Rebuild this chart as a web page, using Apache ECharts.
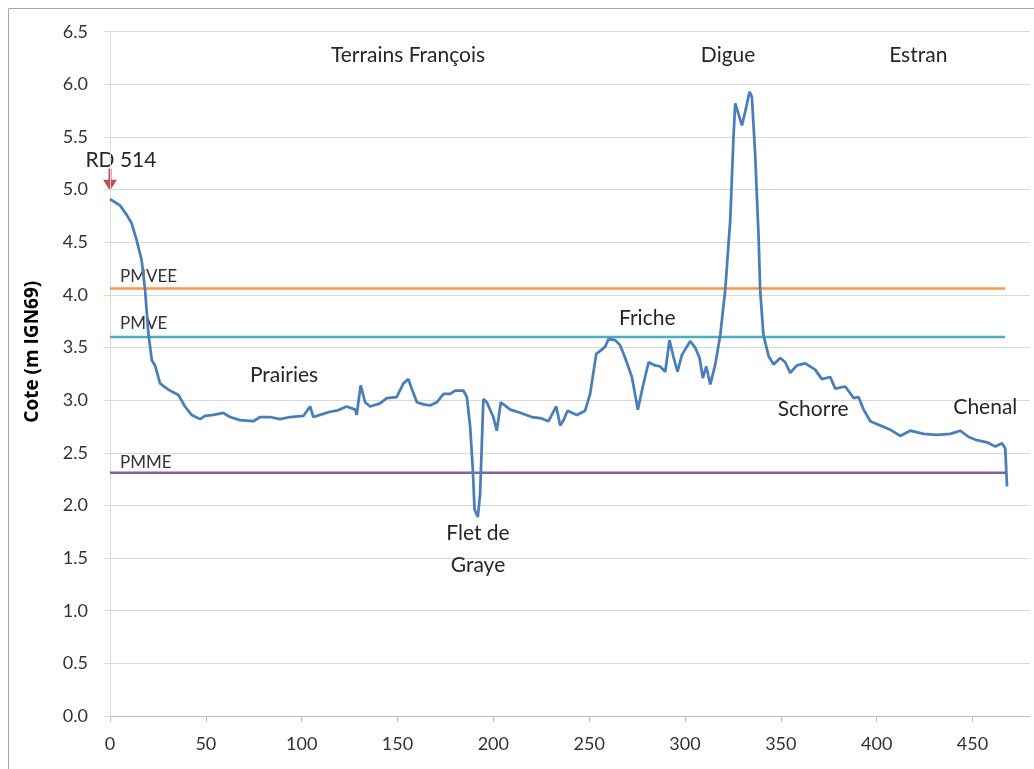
<!DOCTYPE html>
<html>
<head>
<meta charset="utf-8">
<script src="https://cdn.jsdelivr.net/npm/echarts@6/dist/echarts.min.js"></script>
<style>
html,body{margin:0;padding:0;background:#fff;}
#c{width:1034px;height:769px;}
</style>
</head>
<body>
<div id="c"></div>
<script>
const distance = [0, 2.6, 5.2, 8.7, 11.3, 13.9, 16.5, 18.3, 20, 21.8, 23.5, 26.1, 30.4, 35.7, 39.1, 42.6, 47, 49.6, 53.9, 59.1, 62.6, 67.8, 74.8, 78.3, 83.5, 88.7, 93.9, 100.9, 104.4, 106.1, 111.3, 114.8, 118.3, 123.5, 127.9, 128.7, 130.8, 133.1, 135.7, 140.9, 144.4, 149.6, 153.1, 155.7, 157.4, 160.1, 163.5, 167, 170.5, 174, 177.5, 180.1, 184.4, 186.2, 187.9, 189.3, 190.2, 191.9, 193.1, 194, 194.8, 196.6, 200, 201.8, 203.9, 208.8, 214, 220.1, 224.4, 228.8, 230.5, 232.8, 234.9, 236.6, 238.7, 243.6, 247.9, 250.5, 253.7, 256.6, 258.4, 260.1, 263.6, 266.2, 268.8, 272.3, 275.4, 278, 281, 284.4, 287.1, 289.7, 291.9, 294, 296.1, 298.4, 302.7, 305.3, 307.6, 309.3, 311.1, 313.2, 315.8, 318.4, 321, 323.6, 325.3, 326.2, 327.9, 329.7, 331.4, 333.7, 334.9, 336.6, 338.4, 339.2, 340.9, 343.6, 346.2, 349.7, 352.3, 354.9, 358.4, 362.7, 367.9, 371.4, 375.8, 378.4, 383.6, 388, 390.5, 393.2, 396.7, 401.9, 407.1, 412.3, 417.5, 424.5, 431.4, 438.4, 443.6, 448, 452.3, 457.6, 461.9, 465.4, 467.1, 468];
const cote = [4.91, 4.88, 4.85, 4.76, 4.68, 4.52, 4.33, 4.05, 3.64, 3.38, 3.33, 3.16, 3.10, 3.05, 2.94, 2.86, 2.82, 2.85, 2.86, 2.88, 2.84, 2.81, 2.80, 2.84, 2.84, 2.82, 2.84, 2.85, 2.94, 2.84, 2.87, 2.89, 2.90, 2.94, 2.91, 2.86, 3.14, 2.98, 2.94, 2.97, 3.02, 3.03, 3.16, 3.20, 3.11, 2.98, 2.96, 2.95, 2.98, 3.06, 3.06, 3.09, 3.09, 3.03, 2.75, 2.34, 1.96, 1.89, 2.11, 2.59, 3.01, 2.98, 2.84, 2.71, 2.98, 2.91, 2.88, 2.84, 2.83, 2.80, 2.86, 2.94, 2.76, 2.81, 2.90, 2.86, 2.90, 3.06, 3.44, 3.48, 3.51, 3.58, 3.57, 3.52, 3.40, 3.22, 2.91, 3.13, 3.36, 3.33, 3.32, 3.27, 3.57, 3.41, 3.27, 3.43, 3.56, 3.50, 3.40, 3.21, 3.32, 3.15, 3.34, 3.62, 4.05, 4.71, 5.50, 5.82, 5.72, 5.61, 5.74, 5.93, 5.88, 5.34, 4.55, 4.05, 3.62, 3.42, 3.34, 3.40, 3.36, 3.26, 3.33, 3.35, 3.29, 3.20, 3.22, 3.11, 3.13, 3.02, 3.03, 2.91, 2.80, 2.76, 2.72, 2.66, 2.71, 2.68, 2.67, 2.68, 2.71, 2.65, 2.62, 2.60, 2.56, 2.59, 2.54, 2.18];

const refNames = ['PMVEE', 'PMVE', 'PMME'];
const refLevels = [4.06, 3.60, 2.31];
const refExtent = [0, 467];
const refColors = ['#F79646', '#4BACC6', '#8064A2'];

const xTicks = [0, 50, 100, 150, 200, 250, 300, 350, 400, 450];
const yTicks = [0, 0.5, 1, 1.5, 2, 2.5, 3, 3.5, 4, 4.5, 5, 5.5, 6, 6.5];

const zoneNames = ['Terrains François', 'Digue', 'Estran'];
const zoneX = [155.5, 322.5, 421.7];
const zoneY = 6.28;
const placeNames = ['Prairies', 'Friche', 'Flet de', 'Graye', 'Schorre', 'Chenal', 'RD 514'];
const placeX = [90.8, 280.3, 192, 192, 366.9, 456.7, 5.7];
const placeY = [3.24, 3.78, 1.74, 1.43, 2.91, 2.93, 5.28];
const refLabelX = 5.2;
const refLabelY = [4.17, 3.73, 2.41];
const arrowFrom = [0, 5.20];
const arrowTo = [0, 4.99];
const yTitle = 'Cote (m IGN69)';

const chart = echarts.init(document.getElementById('c'));
const FONT = 'Lato';

const series = [{
  type: 'line',
  data: distance.map((d, i) => [d, cote[i]]),
  showSymbol: false,
  symbol: 'none',
  smooth: false,
  lineStyle: { color: '#4A7EBB', width: 2.75 },
  z: 5
}];
refLevels.forEach((lv, i) => {
  series.push({
    type: 'line',
    name: refNames[i],
    data: refExtent.map(x => [x, lv]),
    symbol: 'none',
    lineStyle: { color: refColors[i], width: 2.5 },
    z: 3
  });
});

chart.setOption({
  animation: false,
  backgroundColor: '#fff',
  grid: { left: 110, right: 4, top: 31.7, bottom: 53, containLabel: false },
  xAxis: {
    type: 'value', min: 0, max: 480, interval: 50,
    axisLine: { show: true, lineStyle: { color: '#BFBFBF', width: 1 } },
    axisTick: { show: true, length: 6, lineStyle: { color: '#BFBFBF' } },
    axisLabel: { color: '#333', fontFamily: FONT, fontSize: 18, margin: 19, showMaxLabel: false,
      formatter: v => xTicks.includes(v) ? String(v) : '' },
    splitLine: { show: false }
  },
  yAxis: {
    type: 'value', min: 0, max: 6.5, interval: 0.5,
    axisLine: { show: true, lineStyle: { color: '#D9D9D9', width: 1 } },
    axisTick: { show: true, length: 6, lineStyle: { color: '#D9D9D9' } },
    axisLabel: { color: '#333', fontFamily: FONT, fontSize: 18, margin: 22,
      formatter: v => yTicks.some(t => Math.abs(t - v) < 1e-9) ? v.toFixed(1) : '' },
    splitLine: { show: true, lineStyle: { color: '#D9D9D9', width: 1 } }
  },
  series: series
});

const g = [];
g.push({ type: 'rect', shape: { x: 8.5, y: 8.5, width: 1100, height: 900 }, style: { fill: 'none', stroke: '#A6A6A6', lineWidth: 1 }, silent: true });
function px(x, y) { return chart.convertToPixel({ gridIndex: 0 }, [x, y]); }
const tc = chart.convertToPixel({ gridIndex: 0 }, [0, 3.46]);
g.push({ type: 'text', x: 33, y: tc[1], rotation: Math.PI / 2,
  style: { text: yTitle, fill: '#000', font: 'bold 19px "Open Sans"', align: 'center', verticalAlign: 'middle' } });
zoneNames.forEach((t, i) => {
  const p = px(zoneX[i], zoneY);
  g.push({ type: 'text', x: p[0], y: p[1], style: { text: t, fill: '#262626', font: '21px "' + FONT + '"', align: 'center', verticalAlign: 'middle' } });
});
placeNames.forEach((t, i) => {
  const p = px(placeX[i], placeY[i]);
  g.push({ type: 'text', x: p[0], y: p[1], style: { text: t, fill: '#262626', font: '21px "' + FONT + '"', align: 'center', verticalAlign: 'middle' } });
});
refNames.forEach((t, i) => {
  const p = px(refLabelX, refLabelY[i]);
  g.push({ type: 'text', x: p[0], y: p[1], style: { text: t, fill: '#333', font: '17px "' + FONT + '"', align: 'left', verticalAlign: 'middle' } });
});
const a0 = px(arrowFrom[0], arrowFrom[1]);
const a1 = px(arrowTo[0], arrowTo[1]);
g.push({ type: 'line', shape: { x1: a0[0], y1: a0[1], x2: a1[0], y2: a1[1] - 8 }, style: { stroke: '#C0504D', lineWidth: 3 } });
g.push({ type: 'polygon', shape: { points: [[a1[0] - 7, a1[1] - 11], [a1[0] + 7, a1[1] - 11], [a1[0], a1[1]]] }, style: { fill: '#C0504D' } });
chart.setOption({ graphic: g });
</script>
</body>
</html>
